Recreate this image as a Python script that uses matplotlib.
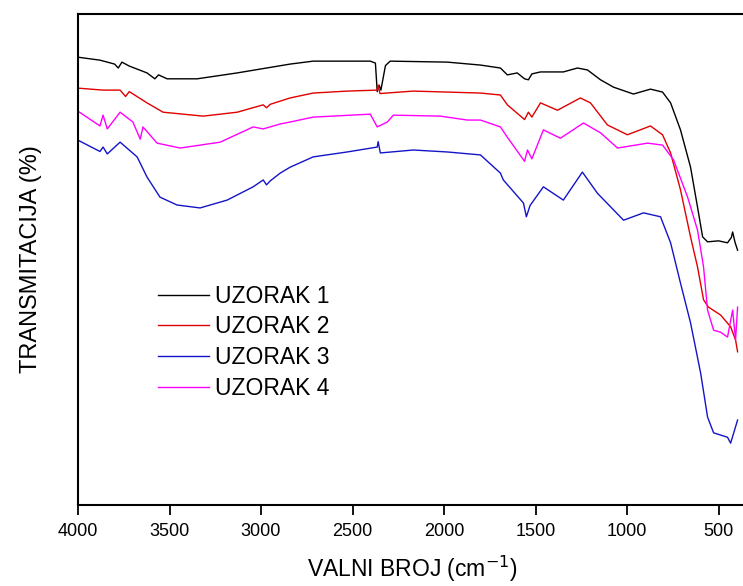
# FTIR spektri - UZORAK 1-4
import matplotlib.pyplot as plt

plt.rcParams['font.family'] = ['Liberation Sans', 'DejaVu Sans']

# --- podaci (ocitano sa slike) ---
wn1 = [4000, 3880, 3800, 3780, 3760, 3720, 3623, 3580, 3560, 3513, 3349, 3130, 2841, 2715,
       2403, 2375, 2365, 2355, 2345, 2320, 2294, 1982, 1801, 1692, 1654, 1600, 1560, 1539,
       1520, 1473, 1348, 1271, 1216, 1145, 1074, 965, 872, 806, 762, 708, 653, 615, 587,
       560, 500, 451, 430, 423, 410, 396]
t1 = [91.2, 90.6, 89.8, 89.0, 90.2, 89.4, 88.0, 86.8, 87.6, 86.8, 86.8, 88.0, 89.8, 90.4,
      90.4, 90.0, 84.2, 85.5, 84.5, 89.5, 90.4, 90.2, 89.6, 89.0, 87.6, 88.0, 86.8, 86.6,
      87.8, 88.2, 88.2, 89.0, 88.6, 86.6, 85.1, 83.7, 84.7, 84.1, 81.9, 76.4, 68.8, 60.7, 54.6,
      53.6, 53.8, 53.4, 54.5, 55.6, 53.5, 51.9]

wn2 = [4000, 3863, 3770, 3740, 3720, 3623, 3535, 3316, 3130, 2988, 2970, 2950, 2841, 2715,
       2529, 2365, 2360, 2350, 2168, 1982, 1801, 1692, 1654, 1560, 1539, 1520, 1473, 1380,
       1255, 1200, 1107, 998, 872, 806, 762, 708, 653, 615, 582, 555, 489, 434, 407, 396]
t2 = [84.9, 84.5, 84.5, 83.2, 84.2, 81.9, 80.0, 79.2, 80.0, 81.5, 80.9, 81.6, 82.9, 83.9,
      84.3, 84.5, 85.5, 83.8, 84.3, 84.1, 83.9, 83.5, 81.5, 78.5, 80.0, 79.0, 81.9, 80.4,
      82.9, 81.9, 77.4, 75.4, 77.2, 75.4, 71.7, 64.2, 54.6, 48.5, 41.8, 40.3, 38.7, 36.3, 33.6, 31.2]

wn3 = [4000, 3880, 3863, 3840, 3770, 3677, 3623, 3552, 3459, 3333, 3185, 3043, 2988, 2970,
       2950, 2895, 2841, 2715, 2529, 2365, 2360, 2348, 2168, 1982, 1801, 1692, 1676, 1566,
       1550, 1530, 1457, 1348, 1244, 1162, 1019, 910, 817, 762, 708, 653, 598, 560, 527,
       451, 434, 396]
t3 = [74.3, 72.0, 72.9, 71.5, 73.9, 70.9, 66.8, 62.7, 61.1, 60.5, 62.1, 64.8, 66.2, 65.2,
      66.0, 67.6, 68.8, 70.9, 71.9, 72.9, 74.0, 71.7, 72.3, 71.9, 71.3, 67.6, 66.2, 61.5,
      58.7, 61.0, 64.8, 62.1, 67.8, 63.5, 58.0, 59.5, 58.7, 53.4, 45.2, 37.1, 26.9, 17.9, 14.7,
      13.8, 12.6, 17.3]

wn4 = [4000, 3880, 3863, 3840, 3770, 3700, 3660, 3645, 3568, 3442, 3223, 3043, 2988, 2895,
       2841, 2715, 2403, 2365, 2310, 2277, 2020, 1873, 1801, 1692, 1654, 1560, 1544, 1520,
       1457, 1364, 1238, 1145, 1052, 888, 806, 746, 669, 615, 582, 560, 527, 489, 451, 423,
       407, 396]
t4 = [80.2, 77.2, 79.4, 76.6, 80.0, 78.0, 74.5, 77.0, 73.7, 72.7, 73.9, 77.0, 76.6, 77.6,
      78.0, 79.0, 79.6, 77.0, 78.0, 79.4, 79.2, 78.4, 78.4, 77.0, 74.9, 70.0, 72.3, 70.5,
      76.4, 74.7, 77.8, 75.8, 72.7, 73.7, 73.3, 70.3, 62.7, 56.0, 48.5, 39.7, 35.6, 35.2, 34.2,
      39.7, 33.6, 40.3]

labels = ["UZORAK 1", "UZORAK 2", "UZORAK 3", "UZORAK 4"]
colors = ["black", "#e00000", "#1414c8", "#ff00ff"]

fig = plt.figure(figsize=(7.43, 5.86), dpi=100)
ax = fig.add_axes([78/743, 1-505/586, 668/743, 491/586])

for wn, t, lab, c in zip([wn1, wn2, wn3, wn4], [t1, t2, t3, t4], labels, colors):
    ax.plot(wn, t, color=c, lw=1.0, label=lab)

ax.set_xlim(4000, 350)
ax.set_ylim(0, 100)
ax.set_xticks([4000, 3500, 3000, 2500, 2000, 1500, 1000, 500])
ax.set_yticks([])
ax.tick_params(axis='x', direction='out', length=7, width=1.3, labelsize=13, pad=6)
for s in ax.spines.values():
    s.set_linewidth(1.5)

ax.set_xlabel("VALNI BROJ (cm$^{-1}$)", fontsize=16.5, labelpad=10)
ax.set_ylabel("TRANSMITACIJA (%)", fontsize=17, labelpad=26)

ax.legend(loc='upper left', bbox_to_anchor=(0.12, 0.449), frameon=False, fontsize=16.5,
          handlelength=2.2, handletextpad=0.3, labelspacing=0.34,
          borderpad=0, borderaxespad=0)

fig.savefig("out.png", dpi=100)
